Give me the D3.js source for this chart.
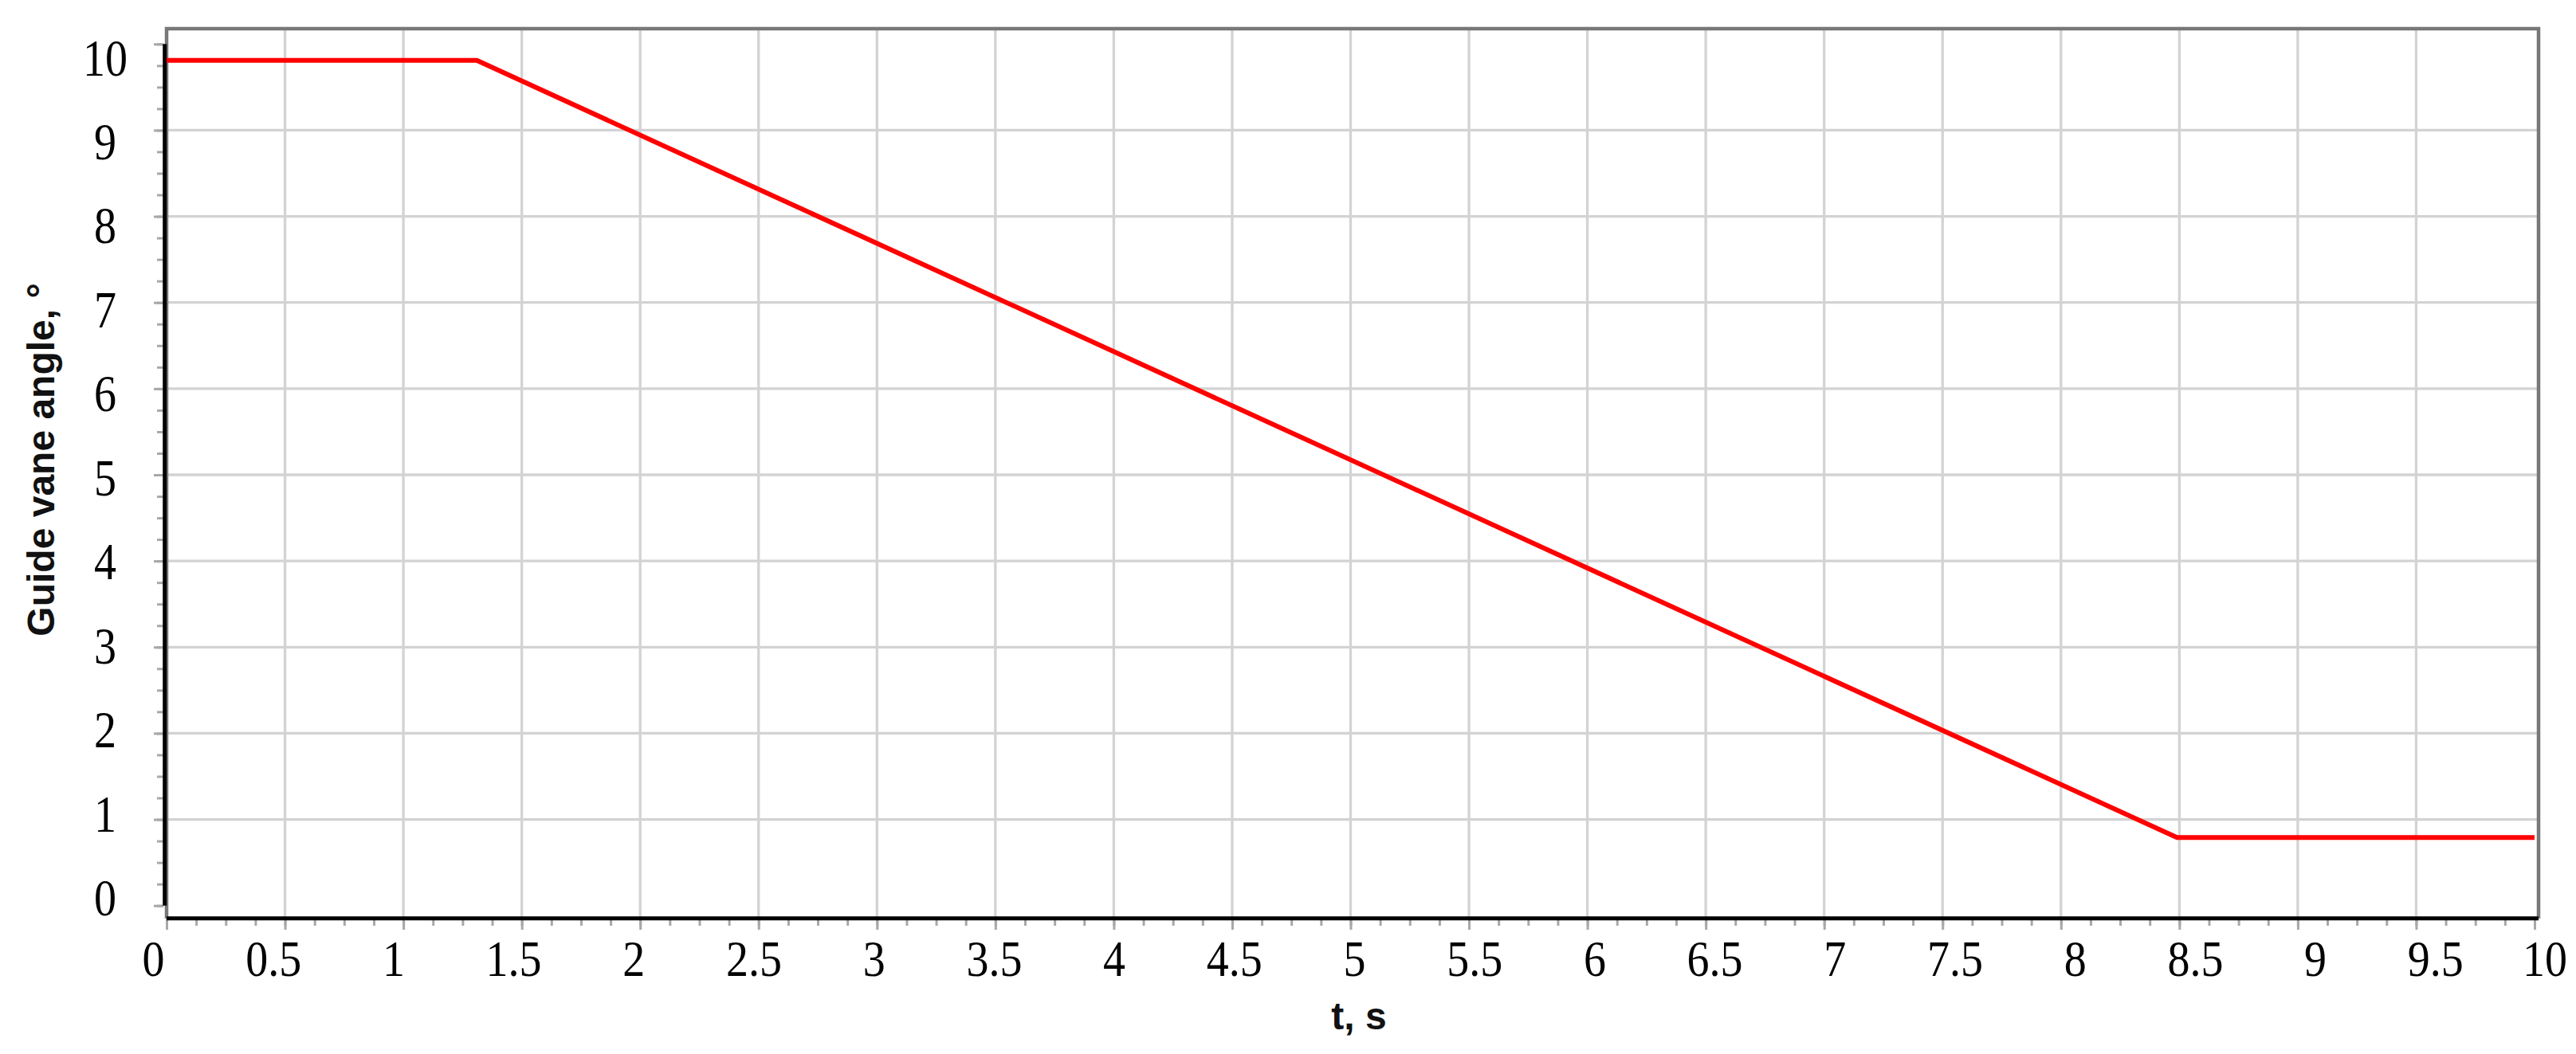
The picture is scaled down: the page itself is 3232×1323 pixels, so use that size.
<!DOCTYPE html>
<html>
<head>
<meta charset="utf-8">
<script src="https://cdnjs.cloudflare.com/ajax/libs/d3/7.8.5/d3.min.js"></script>
<style>
  body { margin: 0; background: #fff; }
  svg { display: block; }
</style>
</head>
<body>
<div id="container"></div>
<script>
// data
var timeSec   = [0, 1.31, 8.49, 10];
var vaneAngle = [9.81, 9.81, 0.79, 0.79];

var xTickValues = [0, 0.5, 1, 1.5, 2, 2.5, 3, 3.5, 4, 4.5, 5, 5.5, 6, 6.5, 7, 7.5, 8, 8.5, 9, 9.5, 10];
var xTickLabels = ["0", "0.5", "1", "1.5", "2", "2.5", "3", "3.5", "4", "4.5", "5", "5.5", "6", "6.5", "7", "7.5", "8", "8.5", "9", "9.5", "10"];
var yTickValues = [0, 1, 2, 3, 4, 5, 6, 7, 8, 9, 10];
var yTickLabels = ["0", "1", "2", "3", "4", "5", "6", "7", "8", "9", "10"];

var xTitle = "t, s";
var yTitle = "Guide vane angle, \u00b0";

window.onload = function() {

	var w = 3232;
	var h = 1323;

	// plot frame
	var frame = {left: 209, right: 3185, top: 36, bottom: 1153};

	var xScale = d3.scaleLinear().domain([0, 10]).range([209, 3180]);
	var yScale = d3.scaleLinear().domain([0, 10]).range([1136.7, 55.3]);

	// the tick labels sit on a slightly different spacing than the ticks
	var xLabelScale = d3.scaleLinear().domain([0, 10]).range([192.5, 3206.5]);
	var yLabelScale = d3.scaleLinear().domain([0, 10]).range([1127, 72.5]);

	var svg = d3.select("#container")
				.append("svg")
				.attr("width", w)
				.attr("height", h);

	svg.append("rect").attr("width", w).attr("height", h).attr("fill", "#fff");

	// grid lines
	svg.append("g").selectAll("line")
		.data(xTickValues.filter(function(d){ return d > 0 && d < 10 }))
		.enter().append("line")
		.attr("x1", function(d){ return xScale(d) })
		.attr("x2", function(d){ return xScale(d) })
		.attr("y1", frame.top)
		.attr("y2", frame.bottom)
		.attr("stroke", "#d3d3d3")
		.attr("stroke-width", 3.3);

	svg.append("g").selectAll("line")
		.data(yTickValues.filter(function(d){ return d > 0 && d < 10 }))
		.enter().append("line")
		.attr("x1", frame.left)
		.attr("x2", frame.right)
		.attr("y1", function(d){ return yScale(d) })
		.attr("y2", function(d){ return yScale(d) })
		.attr("stroke", "#d3d3d3")
		.attr("stroke-width", 3.3);

	// frame (top, right and left in grey)
	svg.append("path")
		.attr("d", "M" + frame.left + "," + frame.bottom + "V" + frame.top + "H" + frame.right + "V" + frame.bottom)
		.attr("fill", "none")
		.attr("stroke", "#787878")
		.attr("stroke-width", 4.5);

	// minor + major ticks, y axis
	var yMinor = d3.axisLeft(yScale).tickValues(d3.range(0, 10.001, 0.25)).tickSize(8).tickFormat("");
	var yMajor = d3.axisLeft(yScale).tickValues(yTickValues).tickSize(12).tickFormat("");
	[yMinor, yMajor].forEach(function(ax){
		var g = svg.append("g").attr("transform", "translate(205,0)").call(ax);
		g.select(".domain").remove();
		g.selectAll("line").attr("stroke", "#a8a8a8").attr("stroke-width", 3);
	});

	// minor + major ticks, x axis
	var xMinor = d3.axisBottom(xScale).tickValues(d3.range(0, 10.001, 0.125)).tickSize(8).tickFormat("");
	var xMajor = d3.axisBottom(xScale).tickValues(xTickValues).tickSize(13).tickFormat("");
	[xMinor, xMajor].forEach(function(ax){
		var g = svg.append("g").attr("transform", "translate(0,1154)").call(ax);
		g.select(".domain").remove();
		g.selectAll("line").attr("stroke", "#a8a8a8").attr("stroke-width", 3);
	});

	// black axis lines
	svg.append("line")
		.attr("x1", 206.7).attr("x2", 206.7)
		.attr("y1", yScale(10)).attr("y2", yScale(0))
		.attr("stroke", "#000").attr("stroke-width", 5);

	svg.append("line")
		.attr("x1", frame.left).attr("x2", frame.right)
		.attr("y1", 1152.7).attr("y2", 1152.7)
		.attr("stroke", "#000").attr("stroke-width", 5);

	// the curve
	var line = d3.line()
		.x(function(d){ return xScale(d[0]) })
		.y(function(d){ return yScale(d[1]) });

	svg.append("path")
		.datum(d3.zip(timeSec, vaneAngle))
		.attr("d", line)
		.attr("fill", "none")
		.attr("stroke", "#ff0000")
		.attr("stroke-width", 6)
		.attr("stroke-linejoin", "round");

	// tick labels (serif, slightly tall)
	svg.append("g").selectAll("text")
		.data(yTickValues)
		.enter().append("text")
		.attr("transform", function(d){
			return "translate(132," + (yLabelScale(d) + 22) + ") scale(1,1.17)"
		})
		.attr("text-anchor", "middle")
		.attr("font-family", "'Liberation Serif', 'Times New Roman', serif")
		.attr("font-size", 56)
		.attr("fill", "#000")
		.text(function(d, i){ return yTickLabels[i] });

	svg.append("g").selectAll("text")
		.data(xTickValues)
		.enter().append("text")
		.attr("transform", function(d){
			return "translate(" + Math.min(xLabelScale(d), 3193) + ",1225) scale(1,1.15)"
		})
		.attr("text-anchor", "middle")
		.attr("font-family", "'Liberation Serif', 'Times New Roman', serif")
		.attr("font-size", 56)
		.attr("fill", "#000")
		.text(function(d, i){ return xTickLabels[i] });

	// axis titles
	svg.append("text")
		.attr("x", 1705)
		.attr("y", 1292)
		.attr("text-anchor", "middle")
		.attr("font-family", "'Liberation Sans', Arial, sans-serif")
		.attr("font-weight", "bold")
		.attr("font-size", 48)
		.attr("fill", "#111")
		.text(xTitle);

	svg.append("text")
		.attr("transform", "translate(68,577) rotate(-90)")
		.attr("text-anchor", "middle")
		.attr("font-family", "'Liberation Sans', Arial, sans-serif")
		.attr("font-weight", "bold")
		.attr("font-size", 48)
		.attr("fill", "#111")
		.text(yTitle);
}
</script>
</body>
</html>
